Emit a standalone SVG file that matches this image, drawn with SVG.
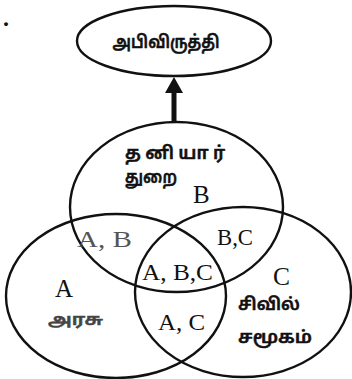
<svg xmlns="http://www.w3.org/2000/svg" width="352" height="379" viewBox="0 0 352 379">
<style>
.e{fill:none;stroke:#111;stroke-width:2.4}
.ta{font-family:"Noto Sans Tamil","Latha","Lohit Tamil","Noto Sans",sans-serif;fill:#111;stroke:#111;stroke-width:0.5;font-weight:600}
.lt{font-family:"Liberation Serif","Times New Roman",serif;fill:#111}
</style>
<rect width="352" height="379" fill="#fff"/>
<text x="3" y="26" class="lt" font-size="24" font-weight="bold">.</text>
<g id="vilaivu">
<ellipse class="e" cx="174" cy="41" rx="97" ry="35"/>
<text x="166" y="48" class="ta" font-size="18" text-anchor="middle" textLength="107" lengthAdjust="spacingAndGlyphs">அபிவிருத்தி</text>
</g>
<g id="connectors">
<line x1="174" y1="122" x2="174" y2="90" stroke="#111" stroke-width="5"/>
<polygon points="174,77 165,93 183,93" fill="#111"/>
</g>
<g id="B">
<ellipse class="e" cx="176.5" cy="207" rx="106.5" ry="85"/>
<text x="125" y="159" class="ta" font-size="18" textLength="100" lengthAdjust="spacing">தனியார்</text>
<text x="125" y="183" class="ta" font-size="18" textLength="52" lengthAdjust="spacingAndGlyphs">துறை</text>
<text x="193" y="203" class="lt" font-size="25">B</text>
</g>
<g id="A">
<ellipse class="e" cx="116" cy="296" rx="110" ry="82"/>
<text x="55" y="297" class="lt" font-size="25" textLength="18" lengthAdjust="spacingAndGlyphs">A</text>
<text x="48" y="325" class="ta" font-size="16" style="fill:#444;stroke:#444" textLength="55" lengthAdjust="spacingAndGlyphs">அரசு</text>
</g>
<g id="C">
<ellipse class="e" cx="243" cy="292" rx="108" ry="85"/>
<text x="273" y="285" class="lt" font-size="25" textLength="17" lengthAdjust="spacingAndGlyphs">C</text>
<text x="238" y="310" class="ta" font-size="17" textLength="62" lengthAdjust="spacingAndGlyphs">சிவில்</text>
<text x="238" y="343" class="ta" font-size="17" textLength="74" lengthAdjust="spacingAndGlyphs">சமூகம்</text>
</g>
<g id="overlaps">
<text x="77" y="247" class="lt" font-size="23" style="fill:#555" textLength="55" lengthAdjust="spacingAndGlyphs">A, B</text>
<text x="217" y="245" class="lt" font-size="23" textLength="36" lengthAdjust="spacingAndGlyphs">B,C</text>
<text x="142" y="280" class="lt" font-size="23" textLength="71" lengthAdjust="spacingAndGlyphs">A, B,C</text>
<text x="158" y="330" class="lt" font-size="23" textLength="47" lengthAdjust="spacingAndGlyphs">A, C</text>
</g>
</svg>
